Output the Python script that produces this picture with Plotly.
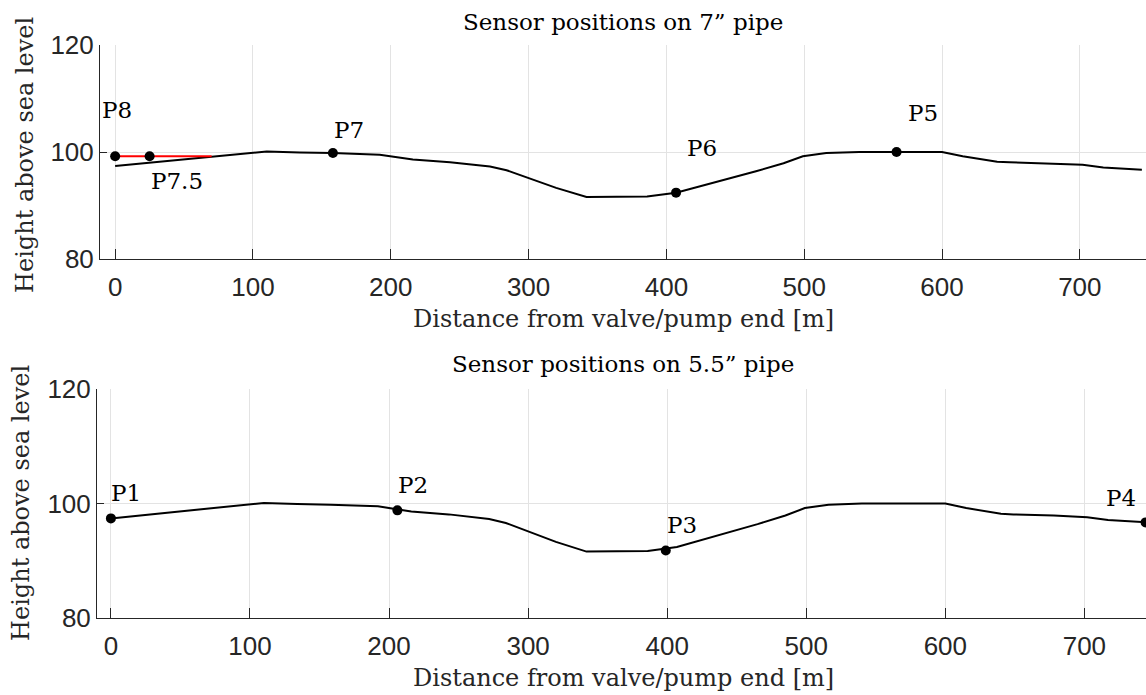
import plotly.graph_objects as go

# pipe elevation profile (distance [m], height [m])
profile_x = [0, 110, 134, 158, 192, 216, 243, 272, 284, 303, 320, 342, 386, 407, 434, 465, 485, 499, 516, 540, 567, 600, 615, 640, 649, 678, 702, 717, 745]
profile_y = [97.4, 100.1, 99.9, 99.8, 99.5, 98.6, 98.1, 97.3, 96.6, 94.8, 93.3, 91.6, 91.7, 92.4, 94.2, 96.4, 97.9, 99.2, 99.8, 100.0, 100.0, 100.0, 99.2, 98.2, 98.1, 97.9, 97.6, 97.1, 96.7]

# 7" pipe sensors
top_names = ["P8", "P7.5", "P7", "P6", "P5"]
top_x = [0, 25, 158, 407, 567]
top_y = [99.2, 99.2, 99.8, 92.4, 100.0]
top_label_x = [1.5, 45, 170, 426, 586]
top_label_y = [107.9, 94.5, 104.2, 100.8, 107.3]
red_x = [0, 70]
red_y = [99.2, 99.2]

# 5.5" pipe sensors
bot_names = ["P1", "P2", "P3", "P4"]
bot_x = [0, 206, 399, 744]
bot_y = [97.4, 98.8, 91.8, 96.7]
bot_label_x = [11, 217, 411, 726]
bot_label_y = [101.8, 103.2, 96.2, 100.9]

x_ticks = [0, 100, 200, 300, 400, 500, 600, 700]
y_ticks = [80, 100, 120]

W, H = 1146, 695
SERIF = "DejaVu Serif"
SANS = "Liberation Sans"
AX = "#262626"

fig = go.Figure()

# top plot
fig.add_trace(go.Scatter(x=profile_x, y=profile_y, mode="lines",
                         line=dict(color="black", width=2), xaxis="x", yaxis="y", showlegend=False))
fig.add_trace(go.Scatter(x=red_x, y=red_y, mode="lines",
                         line=dict(color="red", width=2), xaxis="x", yaxis="y", showlegend=False))
fig.add_trace(go.Scatter(x=top_x, y=top_y, mode="markers",
                         marker=dict(color="black", size=10), xaxis="x", yaxis="y", showlegend=False))
# bottom plot
fig.add_trace(go.Scatter(x=profile_x, y=profile_y, mode="lines",
                         line=dict(color="black", width=2), xaxis="x2", yaxis="y2", showlegend=False))
fig.add_trace(go.Scatter(x=bot_x, y=bot_y, mode="markers",
                         marker=dict(color="black", size=10), xaxis="x2", yaxis="y2", showlegend=False))

def px_x(p):
    return p / W

def px_y(p):
    return 1 - p / H

xa = dict(tickvals=x_ticks, ticks="inside", ticklen=10, tickcolor=AX, tickwidth=1,
          showline=True, linecolor=AX, linewidth=1, mirror=False, automargin=False,
          showgrid=True, gridcolor="#e3e3e3", gridwidth=1, zeroline=False,
          ticklabelstandoff=5,
          tickfont=dict(family=SANS, size=26, color=AX))
ya = dict(tickvals=y_ticks, ticks="inside", ticklen=7, tickcolor=AX, tickwidth=1,
          showline=True, linecolor=AX, linewidth=1, mirror=False, automargin=False,
          showgrid=True, gridcolor="#e3e3e3", gridwidth=1, zeroline=False,
          tickfont=dict(family=SANS, size=26, color=AX), range=[80, 120])

fig.update_layout(
    width=W, height=H,
    margin=dict(l=0, r=0, t=0, b=0, autoexpand=False),
    paper_bgcolor="white", plot_bgcolor="white",
    xaxis=dict(xa, domain=[px_x(100), 1], range=[-11, 748], anchor="y"),
    yaxis=dict(ya, domain=[px_y(259), px_y(45)], anchor="x"),
    xaxis2=dict(xa, domain=[px_x(97), 1], range=[-10, 744.3], anchor="y2"),
    yaxis2=dict(ya, domain=[px_y(618), px_y(389)], anchor="x2"),
)

ann = []
lab_font = dict(family=SERIF, size=23, color="black")
for n, lx, ly in zip(top_names, top_label_x, top_label_y):
    ann.append(dict(x=lx, y=ly, xref="x", yref="y", text=n, showarrow=False,
                    xanchor="center", yanchor="middle", font=lab_font))
for n, lx, ly in zip(bot_names, bot_label_x, bot_label_y):
    ann.append(dict(x=lx, y=ly, xref="x2", yref="y2", text=n, showarrow=False,
                    xanchor="center", yanchor="middle", font=lab_font))

title_font = dict(family=SERIF, size=23, color="black")
label_font = dict(family=SERIF, size=24, color=AX)

def paper_text(x, y, text, font, angle=0):
    return dict(x=px_x(x), y=px_y(y), xref="paper", yref="paper", text=text,
                showarrow=False, xanchor="center", yanchor="middle", textangle=angle, font=font)

ann.append(paper_text(623, 22, "Sensor positions on 7” pipe", title_font))
ann.append(paper_text(623, 364, "Sensor positions on 5.5” pipe", title_font))
ann.append(paper_text(623, 319, "Distance from valve/pump end [m]", label_font))
ann.append(paper_text(623, 678, "Distance from valve/pump end [m]", label_font))
ann.append(paper_text(25, 155, "Height above sea level", label_font, -90))
ann.append(paper_text(21, 503, "Height above sea level", label_font, -90))
fig.update_layout(annotations=ann)

fig.write_html("out.html")
